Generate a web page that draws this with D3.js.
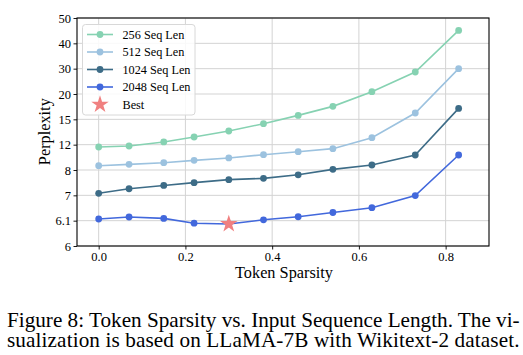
<!DOCTYPE html>
<html><head><meta charset="utf-8">
<script src="https://cdn.jsdelivr.net/npm/d3@7"></script>
<style>body{margin:0;background:#fff;} svg{display:block;} text{font-family:"Liberation Serif","Times New Roman",serif;}</style>
</head><body>
<svg id="c" width="523" height="355"></svg>
<script>
const sparsity = [0, 0.07, 0.15, 0.22, 0.3, 0.38, 0.46, 0.54, 0.63, 0.73, 0.83];
const seq256  = [11.63, 11.79, 12.32, 12.91, 13.62, 14.48, 15.78, 17.56, 20.92, 28.69, 45.1];
const seq512  = [8.68, 8.89, 9.15, 9.52, 9.90, 10.42, 10.89, 11.37, 12.83, 16.25, 30.0];
const seq1024 = [7.08, 7.26, 7.39, 7.50, 7.62, 7.67, 7.81, 8.10, 8.79, 10.37, 17.16];
const seq2048 = [6.16, 6.23, 6.18, 6.09, 6.087, 6.13, 6.24, 6.39, 6.56, 6.99, 10.37];
const best = {x: 0.3, y: 6.087};
const seriesNames = ["256 Seq Len", "512 Seq Len", "1024 Seq Len", "2048 Seq Len"];
const seriesColors = ["#86d2b2", "#9cc2df", "#3d6c87", "#4268dc"];
const yTicks = [6, 6.1, 7, 8, 12, 15, 20, 30, 40, 50];
const xTicks = [0, 0.2, 0.4, 0.6, 0.8];

const series = [seq256, seq512, seq1024, seq2048];
const svg = d3.select("#c");
const L = 77, R = 489, T = 18, B = 246;
const x = d3.scaleLinear().domain([-0.05, 0.9]).range([L, R]);
const step = (B - T) / (yTicks.length - 1);
const y = d3.scaleLinear().domain(yTicks).range(yTicks.map((d, i) => B - i * step));
const FONT = '"Liberation Serif","Times New Roman",serif';

function fit(sel, target) {
  const w = sel.node().getComputedTextLength();
  const fs = parseFloat(sel.attr("font-size"));
  sel.attr("font-size", (fs * target / w).toFixed(2));
}

// grid
const g = svg.append("g");
g.selectAll(".gx").data(xTicks).join("line")
  .attr("x1", d => x(d)).attr("x2", d => x(d)).attr("y1", T).attr("y2", B)
  .attr("stroke", "#d3d3d3").attr("stroke-width", 1);
g.selectAll(".gy").data(yTicks).join("line")
  .attr("x1", L).attr("x2", R).attr("y1", d => y(d)).attr("y2", d => y(d))
  .attr("stroke", "#d3d3d3").attr("stroke-width", 1);

// axes
const xAxis = svg.append("g").attr("transform", `translate(0,${B})`)
  .call(d3.axisBottom(x).tickValues(xTicks).tickFormat(d3.format(".1f")).tickSize(3.5).tickPadding(3));
const yAxis = svg.append("g").attr("transform", `translate(${L},0)`)
  .call(d3.axisLeft(y).tickValues(yTicks).tickFormat(d => String(d)).tickSize(3.5).tickPadding(2.5));
[xAxis, yAxis].forEach(a => {
  a.attr("font-family", null);
  a.select(".domain").remove();
  a.selectAll("text").style("font-family", FONT).attr("font-size", 12.5).attr("fill", "#000");
  a.selectAll("line").attr("stroke", "#000").attr("stroke-width", 0.9);
});

// lines
const line = d3.line().x((d, i) => x(sparsity[i])).y(d => y(d));
series.forEach((s, k) => {
  svg.append("path").datum(s).attr("d", line).attr("fill", "none")
    .attr("stroke", seriesColors[k]).attr("stroke-width", 1.6);
  svg.append("g").selectAll("circle").data(s).join("circle")
    .attr("cx", (d, i) => x(sparsity[i])).attr("cy", d => y(d)).attr("r", 3.4)
    .attr("fill", seriesColors[k]);
});

// star
const star = d3.symbol().type(d3.symbolStar).size(95);
svg.append("path").attr("d", star).attr("transform", `translate(${x(best.x)},${y(best.y)})`)
  .attr("fill", "#f08080");

// frame
svg.append("rect").attr("x", L).attr("y", T).attr("width", R - L).attr("height", B - T)
  .attr("fill", "none").attr("stroke", "#000").attr("stroke-width", 1.1);

// legend
const lg = svg.append("g");
lg.append("rect").attr("x", 82.5).attr("y", 24.5).attr("width", 112.5).attr("height", 90.5)
  .attr("rx", 3).attr("fill", "rgba(255,255,255,0.85)").attr("stroke", "#d8d8d8").attr("stroke-width", 1);
const rowY = i => 34.5 + i * 17.5;
const legTexts = [];
seriesNames.forEach((n, i) => {
  lg.append("line").attr("x1", 87).attr("x2", 113).attr("y1", rowY(i)).attr("y2", rowY(i))
    .attr("stroke", seriesColors[i]).attr("stroke-width", 1.6);
  lg.append("circle").attr("cx", 100).attr("cy", rowY(i)).attr("r", 3.4).attr("fill", seriesColors[i]);
  legTexts.push(lg.append("text").attr("x", 122.5).attr("y", rowY(i)).attr("dy", "0.34em")
    .style("font-family", FONT).attr("font-size", 13).text(n));
});
lg.append("path").attr("d", star).attr("transform", `translate(100,${rowY(4)})`).attr("fill", "#f08080");
legTexts.push(lg.append("text").attr("x", 122.5).attr("y", rowY(4)).attr("dy", "0.34em")
  .style("font-family", FONT).attr("font-size", 13).text("Best"));
fit(legTexts[2], 68);
const lfs = legTexts[2].attr("font-size");
legTexts.forEach(t => t.attr("font-size", lfs));

// axis labels
const xl = svg.append("text").attr("x", 284).attr("y", 278).attr("text-anchor", "middle")
  .style("font-family", FONT).attr("font-size", 14).text("Token Sparsity");
fit(xl, 98);
const yl = svg.append("text").attr("transform", `translate(50,131.7) rotate(-90)`).attr("text-anchor", "middle")
  .style("font-family", FONT).attr("font-size", 14).text("Perplexity");
fit(yl, 67);

// caption
const c1 = svg.append("text").attr("x", 7).attr("y", 326.5).style("font-family", FONT).attr("font-size", 20)
  .text("Figure 8: Token Sparsity vs. Input Sequence Length. The vi-");
fit(c1, 513);
svg.append("text").attr("x", 7).attr("y", 346.5).style("font-family", FONT).attr("font-size", c1.attr("font-size"))
  .attr("textLength", 512.5).attr("lengthAdjust", "spacing")
  .text("sualization is based on LLaMA-7B with Wikitext-2 dataset.");
</script>
</body></html>
